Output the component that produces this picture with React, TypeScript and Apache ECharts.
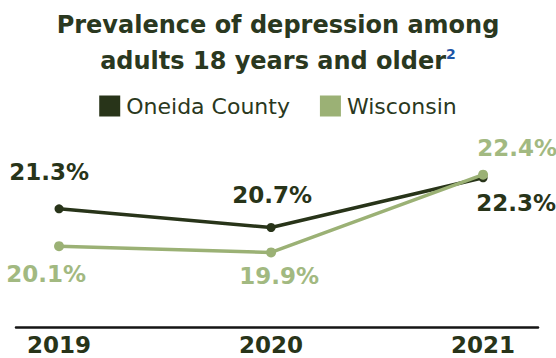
import React, { useEffect, useRef } from "react";
import * as echarts from "echarts";

const years = [2019, 2020, 2021];
const oneidaValues = [21.3, 20.7, 22.3];
const wisconsinValues = [20.1, 19.9, 22.4];
const seriesNames = ["Oneida County", "Wisconsin"];

const DARK = "#283419";
const LIGHT = "#9bb175";
const LIGHT_TEXT = "#a2b981";
const TITLE_COLOR = "#2a3820";
const FONT = "DejaVu Sans";

// label offsets (center of label relative to point)
const oneidaLabelOffsets = [[-10, -37], [1, -33], [33, 25]];
const wisconsinLabelOffsets = [[-13, 28], [8, 24], [34, -27]];

export default function App() {
  const ref = useRef<HTMLDivElement>(null);
  useEffect(() => {
    if (!ref.current) return;
    const chart = echarts.init(ref.current, null, { renderer: "svg" });
    const mk = (vals: number[], offs: number[][], color: string) =>
      vals.map((v, i) => ({
        value: [years[i], v],
        label: {
          show: true,
          position: "inside",
          offset: offs[i],
          align: "center",
          verticalAlign: "middle",
          formatter: (p: any) => p.value[1].toFixed(1) + "%",
          color,
          fontFamily: FONT,
          fontWeight: "bold",
          fontSize: 23,
        },
      }));
    chart.setOption({
      animation: false,
      title: {
        text: "Prevalence of depression among\nadults 18 years and older{sup|2}",
        left: "center",
        top: 2,
        textStyle: {
          fontFamily: FONT,
          fontWeight: "bold",
          fontSize: 24,
          lineHeight: 36,
          color: TITLE_COLOR,
          rich: {
            sup: {
              fontFamily: FONT,
              fontWeight: "bold",
              fontSize: 14,
              color: "#1d55a6",
              padding: [0, 0, 14, 0],
            },
          },
        },
      },
      legend: {
        top: 90,
        left: "center",
        icon: "rect",
        itemWidth: 21,
        itemHeight: 21,
        itemGap: 30,
        textStyle: { fontFamily: FONT, fontSize: 22, color: TITLE_COLOR, padding: [0, 0, 0, 1] },
        data: seriesNames,
      },
      grid: { left: 16, right: 18, top: 156, bottom: 31 },
      xAxis: {
        type: "value",
        min: 2018.797,
        max: 2021.259,
        splitLine: { show: false },
        axisTick: { show: false },
        axisLine: { show: true, lineStyle: { color: "#151515", width: 2.5 } },
        axisLabel: {
          customValues: years,
          formatter: (v: number) => String(v),
          margin: 6,
          fontFamily: FONT,
          fontWeight: "bold",
          fontSize: 23,
          color: DARK,
        },
      },
      yAxis: { type: "value", min: 17.5, max: 23, show: false, splitLine: { show: false } },
      series: [
        {
          name: seriesNames[1],
          type: "line",
          data: mk(wisconsinValues, wisconsinLabelOffsets, LIGHT_TEXT),
          symbol: "circle",
          symbolSize: 10,
          color: LIGHT,
          lineStyle: { width: 3.5, color: LIGHT },
          itemStyle: { color: LIGHT },
          z: 2,
        },
        {
          name: seriesNames[0],
          type: "line",
          data: mk(oneidaValues, oneidaLabelOffsets, DARK),
          symbol: "circle",
          symbolSize: 9,
          color: DARK,
          lineStyle: { width: 3.5, color: DARK },
          itemStyle: { color: DARK },
          z: 1,
        },
      ],
    });
    return () => chart.dispose();
  }, []);
  return (
    <div
      ref={ref}
      style={{ position: "fixed", left: 0, top: 0, width: 556, height: 358, background: "#fff" }}
    />
  );
}
